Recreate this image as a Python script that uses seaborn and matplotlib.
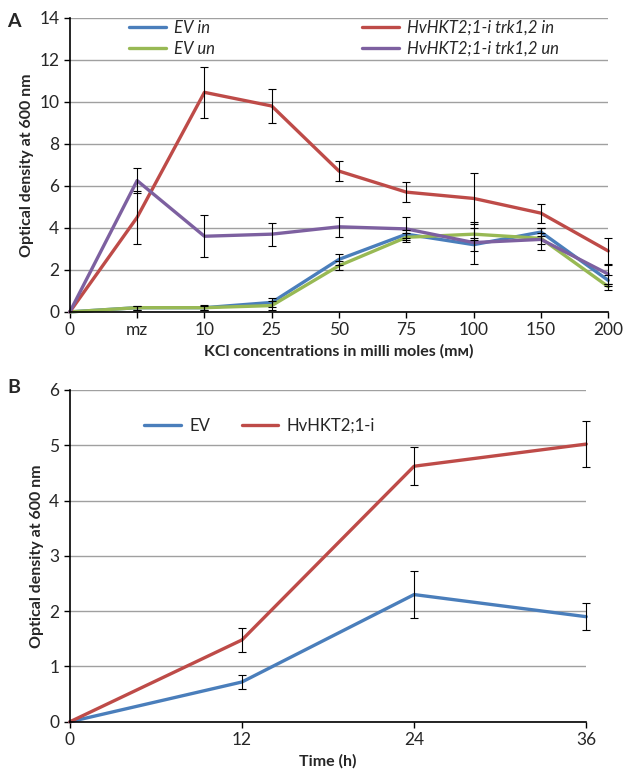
import numpy as np
import pandas as pd
import matplotlib
matplotlib.use("Agg")
import matplotlib.pyplot as plt
import seaborn as sns

sns.set_theme(style="white")
plt.rcParams['font.family'] = ['Lato', 'DejaVu Sans']

# Panel A data
kcl_labels = ['0', 'mz', '10', '25', '50', '75', '100', '150', '200']
ev_in = [0, 0.2, 0.2, 0.45, 2.5, 3.7, 3.2, 3.8, 1.5]
ev_in_err = [0, 0.1, 0.12, 0.2, 0.25, 0.2, 0.3, 0.2, 0.25]
ev_un = [0, 0.2, 0.2, 0.3, 2.2, 3.55, 3.7, 3.5, 1.2]
ev_un_err = [0, 0.1, 0.1, 0.2, 0.2, 0.2, 0.3, 0.25, 0.15]
hkt_in = [0, 4.5, 10.45, 9.8, 6.7, 5.7, 5.4, 4.7, 2.9]
hkt_in_err = [0, 1.25, 1.2, 0.8, 0.47, 0.47, 1.2, 0.45, 0.6]
hkt_un = [0, 6.25, 3.6, 3.7, 4.05, 3.95, 3.3, 3.45, 1.8]
hkt_un_err = [0, 0.6, 1.0, 0.55, 0.47, 0.55, 1.0, 0.52, 0.45]

# Panel B data
time_h = [0, 12, 24, 36]
ev_time = [0, 0.72, 2.3, 1.9]
ev_time_err = [0, 0.12, 0.42, 0.24]
hkt_time = [0, 1.48, 4.62, 5.02]
hkt_time_err = [0, 0.21, 0.34, 0.41]

blue = '#4a7ebb'
red = '#be4b48'
green = '#98b954'
purple = '#7d60a0'


def add_errorbars(ax, x, y, err):
    cont = ax.errorbar(x, y, yerr=err, fmt='none', ecolor='black',
                       elinewidth=0.8, capsize=3, capthick=0.8, zorder=5)
    for art in cont.get_children():
        art.set_clip_on(False)


fig = plt.figure(figsize=(6.29, 7.72), dpi=100)
axA = fig.add_axes([0.111, 0.596, 0.856, 0.381])
axB = fig.add_axes([0.111, 0.065, 0.821, 0.430])

# ---- Panel A
pos = np.arange(len(kcl_labels))
series_a = [('EV in', ev_in, ev_in_err, blue),
            ('EV un', ev_un, ev_un_err, green),
            ('HvHKT2;1-i trk1,2 in', hkt_in, hkt_in_err, red),
            ('HvHKT2;1-i trk1,2 un', hkt_un, hkt_un_err, purple)]
rows = []
for name, vals, errs, c in series_a:
    for p, v in zip(pos, vals):
        rows.append({'pos': p, 'od': v, 'series': name})
dfA = pd.DataFrame(rows)
sns.lineplot(data=dfA, x='pos', y='od', hue='series',
             palette={s[0]: s[3] for s in series_a},
             hue_order=[s[0] for s in series_a], linewidth=2.4, ax=axA)
for name, vals, errs, c in series_a:
    add_errorbars(axA, pos[1:], vals[1:], errs[1:])

axA.set_xlim(0, len(kcl_labels) - 1)
axA.set_ylim(0, 14)
axA.set_yticks(range(0, 15, 2))
axA.set_xticks(pos)
axA.set_xticklabels(kcl_labels)
axA.set_xlabel('KCl concentrations in milli moles (mᴍ)', fontsize=11.5, fontweight='bold')
axA.set_ylabel('Optical density at 600 nm', fontsize=11.5, fontweight='bold')
axA.yaxis.grid(True, color='#a0a0a0', linewidth=1)
axA.set_axisbelow(True)
h, l = axA.get_legend_handles_labels()
axA.legend(h, l, ncol=2, loc='upper left', bbox_to_anchor=(0.082, 1.045),
           frameon=False, handlelength=2.2, handletextpad=0.5, columnspacing=8.85,
           labelspacing=0.3, prop={'style': 'italic', 'size': 12})

# ---- Panel B
series_b = [('EV', ev_time, ev_time_err, blue),
            ('HvHKT2;1-i', hkt_time, hkt_time_err, red)]
rows = []
for name, vals, errs, c in series_b:
    for t, v in zip(time_h, vals):
        rows.append({'time': t, 'od': v, 'series': name})
dfB = pd.DataFrame(rows)
sns.lineplot(data=dfB, x='time', y='od', hue='series',
             palette={s[0]: s[3] for s in series_b},
             hue_order=[s[0] for s in series_b], linewidth=2.4, ax=axB)
for name, vals, errs, c in series_b:
    add_errorbars(axB, time_h[1:], vals[1:], errs[1:])

axB.set_xlim(0, 36)
axB.set_ylim(0, 6)
axB.set_xticks(time_h)
axB.set_yticks(range(0, 7))
axB.set_xlabel('Time (h)', fontsize=11.5, fontweight='bold')
axB.set_ylabel('Optical density at 600 nm', fontsize=11.5, fontweight='bold')
axB.yaxis.grid(True, color='#a0a0a0', linewidth=1)
axB.set_axisbelow(True)
h, l = axB.get_legend_handles_labels()
axB.legend(h, l, ncol=2, loc='upper left', bbox_to_anchor=(0.115, 0.961),
           frameon=False, handlelength=2.2, handletextpad=0.5, columnspacing=1.9,
           prop={'size': 12})

for ax in (axA, axB):
    for s in ('top', 'right'):
        ax.spines[s].set_visible(False)
    for s in ('left', 'bottom'):
        ax.spines[s].set_color('black')
        ax.spines[s].set_linewidth(1.2)
    ax.tick_params(axis='both', which='major', length=4, width=1, color='black',
                   labelsize=12.5, direction='out', bottom=True, left=True)
    for line in ax.lines:
        line.set_clip_on(False)

fig.text(0.012, 0.972, 'A', fontsize=14, fontweight='bold', va='center')
fig.text(0.012, 0.498, 'B', fontsize=14, fontweight='bold', va='center')

fig.savefig('out.png', dpi=100)
